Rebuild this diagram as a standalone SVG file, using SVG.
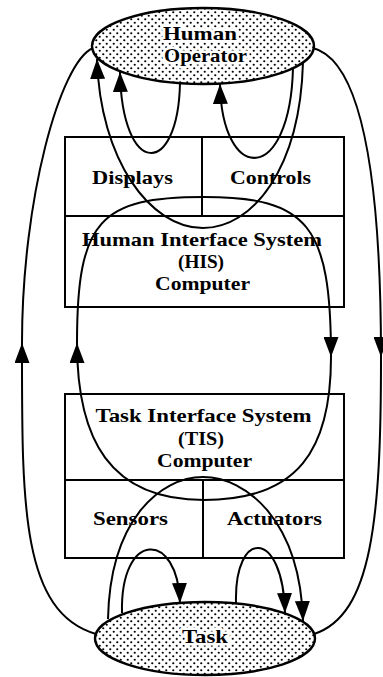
<svg xmlns="http://www.w3.org/2000/svg" width="383" height="677" viewBox="0 0 383 677">
  <defs>
    <!-- stipple used for the operator and task ellipses -->
    <pattern id="stipple" width="7" height="7" patternUnits="userSpaceOnUse">
      <rect width="7" height="7" fill="#fff"/>
      <circle cx="1.75" cy="1.75" r="1.1" fill="#000"/>
      <circle cx="5.25" cy="5.25" r="1.1" fill="#000"/>
    </pattern>
    <marker id="ah" markerUnits="userSpaceOnUse" markerWidth="20" markerHeight="15" viewBox="0 0 20 15" refX="20" refY="7.5" orient="auto">
      <path d="M0,0 L20,7.5 L0,15 z" fill="#000"/>
    </marker>
    <style>
      .blob { fill: url(#stipple); stroke: #000; stroke-width: 2.4; }
      .box { fill: none; stroke: #000; stroke-width: 2; }
      .lbl { font-family: "Liberation Serif", "DejaVu Serif", serif; font-weight: bold; font-size: 19.5px; fill: #000; text-anchor: middle; }
      .halo { stroke: #fff; stroke-width: 5; stroke-linejoin: round; paint-order: stroke; }
      .wire { fill: none; stroke: #000; stroke-width: 2; }
    </style>
  </defs>
  <rect width="383" height="677" fill="#fff"/>

  <g id="human-operator">
    <ellipse class="blob" cx="203" cy="46" rx="111" ry="38"/>
    <text class="lbl halo" x="200" y="40" textLength="74" lengthAdjust="spacingAndGlyphs">Human</text>
    <text class="lbl halo" x="205.5" y="62" textLength="83" lengthAdjust="spacingAndGlyphs">Operator</text>
  </g>

  <g id="his">
    <rect class="box" x="65" y="137" width="279" height="170"/>
    <line class="box" x1="65" y1="216" x2="344" y2="216"/>
    <line class="box" x1="202" y1="137" x2="202" y2="216"/>
    <text class="lbl" x="132.5" y="184" textLength="81" lengthAdjust="spacingAndGlyphs">Displays</text>
    <text class="lbl" x="270.5" y="184" textLength="81" lengthAdjust="spacingAndGlyphs">Controls</text>
    <text class="lbl" x="202" y="246" textLength="240" lengthAdjust="spacingAndGlyphs">Human Interface System</text>
    <text class="lbl" x="201" y="268" textLength="46" lengthAdjust="spacingAndGlyphs">(HIS)</text>
    <text class="lbl" x="202.5" y="290" textLength="95" lengthAdjust="spacingAndGlyphs">Computer</text>
  </g>

  <g id="tis">
    <rect class="box" x="65" y="394" width="279" height="164"/>
    <line class="box" x1="65" y1="480" x2="344" y2="480"/>
    <line class="box" x1="203" y1="480" x2="203" y2="558"/>
    <text class="lbl" x="203.5" y="422" textLength="216" lengthAdjust="spacingAndGlyphs">Task Interface System</text>
    <text class="lbl" x="201" y="444.5" textLength="46" lengthAdjust="spacingAndGlyphs">(TIS)</text>
    <text class="lbl" x="204.5" y="467" textLength="95" lengthAdjust="spacingAndGlyphs">Computer</text>
    <text class="lbl" x="130.5" y="525" textLength="75" lengthAdjust="spacingAndGlyphs">Sensors</text>
    <text class="lbl" x="274.5" y="525" textLength="95" lengthAdjust="spacingAndGlyphs">Actuators</text>
  </g>

  <g id="task">
    <ellipse class="blob" cx="205" cy="638.5" rx="110" ry="36.5"/>
    <text class="lbl halo" x="205" y="643" textLength="46" lengthAdjust="spacingAndGlyphs">Task</text>
  </g>

  <g id="connectors">
    <!-- direct observation: task to operator -->
    <path class="wire" d="M96,634 C20,612 22,500 22,343 C22,200 60,62 93,48" marker-mid="url(#ah)"/>
    <!-- direct manipulation: operator to task -->
    <path class="wire" d="M313,48 C360,60 381,170 381,357 C381,520 372,615 314,634" marker-mid="url(#ah)"/>
    <!-- HIS / TIS loop -->
    <path class="wire" d="M204,500 C110,500 77,440 77,343 C77,220 100,197 204,197" marker-mid="url(#ah)"/>
    <path class="wire" d="M204,197 C308,197 331,225 331,357 C331,450 298,500 204,500" marker-mid="url(#ah)"/>
    <!-- operator loop through the HIS computer -->
    <path class="wire" d="M303,62 C300,170 252,228 203,228 C150,228 100,160 97,59" marker-end="url(#ah)"/>
    <!-- display and control loops -->
    <path class="wire" d="M180,83 C178,178 122,178 120,72" marker-end="url(#ah)"/>
    <path class="wire" d="M293,68 C290,185 222,185 220,84" marker-end="url(#ah)"/>
    <!-- task loop through the TIS computer -->
    <path class="wire" d="M108,619 C110,520 160,477 203,477 C246,477 300,520 303,621" marker-end="url(#ah)"/>
    <!-- sensor and actuator loops -->
    <path class="wire" d="M122,613 C120,530 178,530 180,603" marker-end="url(#ah)"/>
    <path class="wire" d="M236,603 C234,528 283,528 285,613" marker-end="url(#ah)"/>
  </g>
</svg>
